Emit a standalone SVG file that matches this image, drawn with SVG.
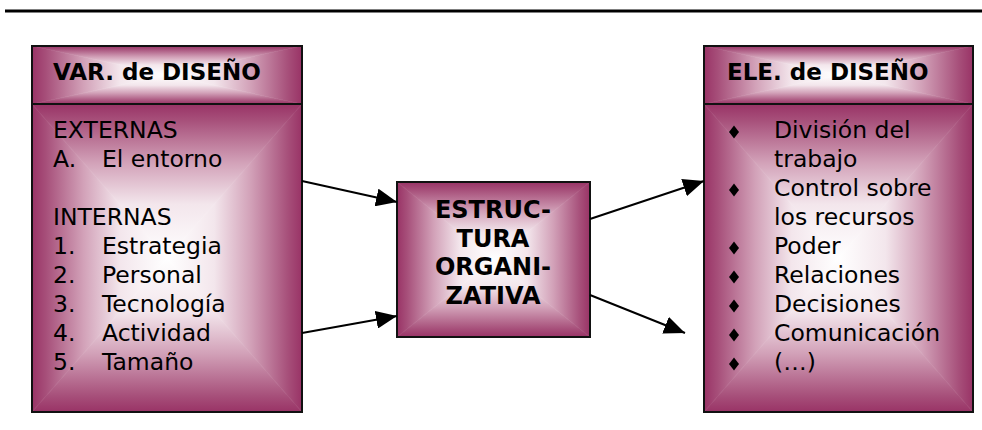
<svg xmlns="http://www.w3.org/2000/svg" width="982" height="430" viewBox="0 0 982 430">
<defs>
<style>
.t{font-family:"DejaVu Sans","Verdana",sans-serif;font-size:23.5px;fill:#000}
.h{font-family:"DejaVu Sans","Verdana",sans-serif;font-size:23px;font-weight:bold;fill:#000}
.c{font-family:"DejaVu Sans","Verdana",sans-serif;font-size:24px;font-weight:bold;fill:#000;text-anchor:middle}
.frame{fill:none;stroke:#111;stroke-width:2}
.div{stroke:#111;stroke-width:2}
.conn{stroke:#000;stroke-width:2;fill:none;marker-end:url(#ah)}
.gt{fill:url(#gT);stroke:url(#gT);stroke-width:0.6}
.gb{fill:url(#gB);stroke:url(#gB);stroke-width:0.6}
.gl{fill:url(#gL);stroke:url(#gL);stroke-width:0.6}
.gr{fill:url(#gR);stroke:url(#gR);stroke-width:0.6}
.s0{stop-color:#993366}.s1{stop-color:#a64e79}.s2{stop-color:#d2a1b8}.s3{stop-color:#f3e6ec}.s4{stop-color:#ffffff}
</style>
<linearGradient id="gT" x1="0" y1="0" x2="0" y2="1"><stop offset="0" class="s0"/><stop offset="0.1" class="s1"/><stop offset="0.38" class="s2"/><stop offset="0.65" class="s3"/><stop offset="1" class="s4"/></linearGradient>
<linearGradient id="gB" x1="0" y1="1" x2="0" y2="0"><stop offset="0" class="s0"/><stop offset="0.1" class="s1"/><stop offset="0.38" class="s2"/><stop offset="0.65" class="s3"/><stop offset="1" class="s4"/></linearGradient>
<linearGradient id="gL" x1="0" y1="0" x2="1" y2="0"><stop offset="0" class="s0"/><stop offset="0.1" class="s1"/><stop offset="0.38" class="s2"/><stop offset="0.65" class="s3"/><stop offset="1" class="s4"/></linearGradient>
<linearGradient id="gR" x1="1" y1="0" x2="0" y2="0"><stop offset="0" class="s0"/><stop offset="0.1" class="s1"/><stop offset="0.38" class="s2"/><stop offset="0.65" class="s3"/><stop offset="1" class="s4"/></linearGradient>
<marker id="ah" viewBox="0 0 21 18" refX="21" refY="9" markerWidth="21" markerHeight="18" markerUnits="userSpaceOnUse" orient="auto"><path d="M0,0 L21,9 L0,18 z" fill="#000"/></marker>
<path id="bul" d="M0,-6.5 L5,0 L0,6.5 L-5,0 z" fill="#000"/>
</defs>

<line x1="5" y1="11" x2="982" y2="11" stroke="#000" stroke-width="3"/>

<g id="var-diseno">
<polygon class="gt" points="32,46 302,46 167,75"/>
<polygon class="gb" points="32,104 302,104 167,75"/>
<polygon class="gl" points="32,46 32,104 167,75"/>
<polygon class="gr" points="302,46 302,104 167,75"/>
<polygon class="gt" points="32,104 302,104 167,258"/>
<polygon class="gb" points="32,412 302,412 167,258"/>
<polygon class="gl" points="32,104 32,412 167,258"/>
<polygon class="gr" points="302,104 302,412 167,258"/>
<rect class="frame" x="32" y="46" width="270" height="366"/>
<line class="div" x1="32" y1="104" x2="302" y2="104"/>
<text class="h" x="53" y="80">VAR. de DISEÑO</text>
<text class="t" x="53" y="138">EXTERNAS</text>
<text class="t" x="53" y="167">A.</text><text class="t" x="102" y="167">El entorno</text>
<text class="t" x="53" y="225">INTERNAS</text>
<text class="t" x="53" y="254">1.</text><text class="t" x="102" y="254">Estrategia</text>
<text class="t" x="53" y="283">2.</text><text class="t" x="102" y="283">Personal</text>
<text class="t" x="53" y="312">3.</text><text class="t" x="102" y="312">Tecnología</text>
<text class="t" x="53" y="341">4.</text><text class="t" x="102" y="341">Actividad</text>
<text class="t" x="53" y="370">5.</text><text class="t" x="102" y="370">Tamaño</text>
</g>

<g id="estructura">
<polygon class="gt" points="397,182 590,182 493.5,259.5"/>
<polygon class="gb" points="397,337 590,337 493.5,259.5"/>
<polygon class="gl" points="397,182 397,337 493.5,259.5"/>
<polygon class="gr" points="590,182 590,337 493.5,259.5"/>
<rect class="frame" x="397" y="182" width="193" height="155"/>
<text class="c" x="493" y="218">ESTRUC-</text>
<text class="c" x="493" y="247">TURA</text>
<text class="c" x="493" y="275">ORGANI-</text>
<text class="c" x="493" y="304">ZATIVA</text>
</g>

<g id="ele-diseno">
<polygon class="gt" points="704,46 973,46 838.5,75"/>
<polygon class="gb" points="704,104 973,104 838.5,75"/>
<polygon class="gl" points="704,46 704,104 838.5,75"/>
<polygon class="gr" points="973,46 973,104 838.5,75"/>
<polygon class="gt" points="704,104 973,104 838.5,258"/>
<polygon class="gb" points="704,412 973,412 838.5,258"/>
<polygon class="gl" points="704,104 704,412 838.5,258"/>
<polygon class="gr" points="973,104 973,412 838.5,258"/>
<rect class="frame" x="704" y="46" width="269" height="366"/>
<line class="div" x1="704" y1="104" x2="973" y2="104"/>
<text class="h" x="727" y="80">ELE. de DISEÑO</text>
<use href="#bul" x="734" y="132"/><text class="t" x="774" y="138">División del</text>
<text class="t" x="774" y="167">trabajo</text>
<use href="#bul" x="734" y="190"/><text class="t" x="774" y="196">Control sobre</text>
<text class="t" x="774" y="225">los recursos</text>
<use href="#bul" x="734" y="248"/><text class="t" x="774" y="254">Poder</text>
<use href="#bul" x="734" y="277"/><text class="t" x="774" y="283">Relaciones</text>
<use href="#bul" x="734" y="306"/><text class="t" x="774" y="312">Decisiones</text>
<use href="#bul" x="734" y="335"/><text class="t" x="774" y="341">Comunicación</text>
<use href="#bul" x="734" y="364"/><text class="t" x="774" y="370">(…)</text>
</g>

<g id="connectors">
<line class="conn" x1="302" y1="181" x2="397" y2="202"/>
<line class="conn" x1="302" y1="333" x2="397" y2="316"/>
<line class="conn" x1="590" y1="219" x2="704" y2="181"/>
<line class="conn" x1="590" y1="295" x2="685" y2="333"/>
</g>
</svg>
